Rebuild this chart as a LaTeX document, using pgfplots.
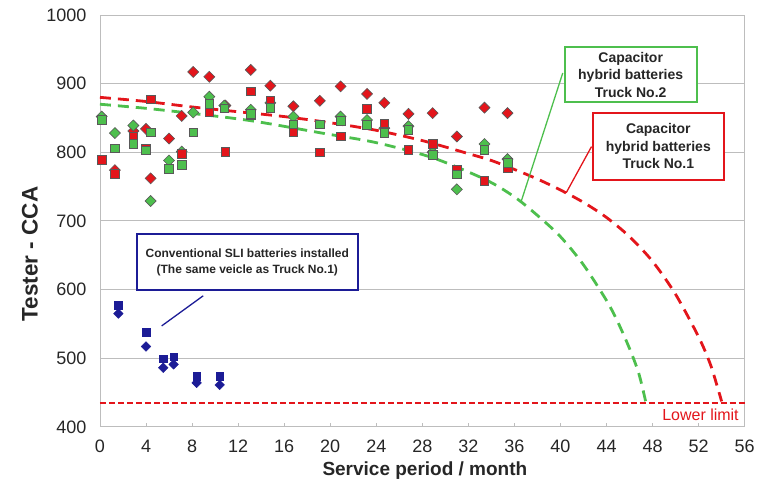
\documentclass[border=0pt]{standalone}
\usepackage{pgfplots}
\pgfplotsset{compat=1.18}
\usetikzlibrary{calc}
\usepackage{fontspec}
\setmainfont{Liberation Sans}
\definecolor{myred}{HTML}{E3151B}
\definecolor{mygreen}{HTML}{4DBF4D}
\definecolor{myblue}{HTML}{1C1C96}
\definecolor{gridgray}{HTML}{BDBDBD}
\begin{document}
\begin{tikzpicture}
\begin{axis}[
  name=ax, scale only axis, width=645pt, height=412pt,
  xmin=0, xmax=56, ymin=400, ymax=1000,
  xtick={0,4,...,56}, ytick={400,500,...,1000},
  ymajorgrids, grid style={draw=gridgray, line width=0.9pt},
  axis line style={draw=gridgray, line width=0.9pt},
  xtick style={draw=gridgray, line width=0.9pt}, ytick style={draw=none},
  tick align=inside, xtick pos=bottom, ytick pos=left, major tick length=4pt,
  /pgf/number format/assume math mode=true,
  /pgf/number format/1000 sep={},
  ticklabel style={font=\fontsize{18}{21}\selectfont, text=black!85},
  xticklabel style={yshift=-10pt},
  yticklabel style={xshift=-10pt},
  xlabel={Service period / month}, ylabel={Tester - CCA},
  xlabel style={font=\bfseries\fontsize{19}{22}\selectfont, text=black!85, at={(axis description cs:0.504,0)}, anchor=center, yshift=-44pt},
  ylabel style={font=\bfseries\fontsize{22.5}{26}\selectfont, text=black!85, at={(axis description cs:-0.1085,0.42)}, anchor=center},
  clip=false,
]
% lower limit
\addplot[myred, line width=2pt, dash pattern=on 6pt off 3pt] coordinates {(0,435) (56,435)};
% red fitted curve
\addplot[myred, line width=2.8pt, dash pattern=on 11pt off 7pt, smooth] coordinates {
(0,880) (4,874) (8,866) (12,859) (16,852) (20,843) (24,832) (28,817) (32,798) (34,788) (36,775) (38,761) (40,745) (42,727) (44,705) (46,677) (48,641) (50,593) (52,531) (53,492) (53.6,460) (54,437)};
% green fitted curve
\addplot[mygreen, line width=2.8pt, dash pattern=on 11pt off 7pt, smooth] coordinates {
(0,870) (4,864) (7.8,857) (13.1,846) (19.6,827) (24,814) (28.9,792) (33.5,760) (36,735) (38,708) (40,677) (42,636) (44,584) (45,552) (46,514) (46.8,478) (47.4,437)};
% red diamonds
\addplot[only marks, mark=square*, mark size=3.9pt, mark options={rotate=45, fill=myred, draw=black!65, line width=0.6pt}] coordinates {
(1.3,774) (2.9,831) (4.0,834) (4.4,762) (6.0,820) (7.1,853) (8.1,917) (9.5,910) (10.9,868) (13.1,920) (14.8,897) (16.8,867) (19.1,875) (20.9,896) (23.2,885) (24.7,872) (26.8,856) (28.9,857) (31.0,823) (33.4,865) (35.4,857)};
% green diamonds
\addplot[only marks, mark=square*, mark size=3.9pt, mark options={rotate=45, fill=mygreen, draw=black!65, line width=0.6pt}] coordinates {
(0.15,852) (1.3,828) (2.9,839) (4.4,729) (6.0,788) (7.1,801) (8.1,858) (9.5,881) (10.8,868) (13.1,862) (14.8,872) (16.8,852) (20.9,852) (23.2,847) (24.7,835) (26.8,838) (28.9,800) (31.0,746) (33.4,812) (35.4,790)};
% red squares
\addplot[only marks, mark=square*, mark size=4.3pt, mark options={fill=myred, draw=black!65, line width=0.6pt}] coordinates {
(0.15,789) (1.3,769) (2.9,823) (4.4,877) (4.0,806) (7.1,798) (9.5,859) (10.9,801) (13.1,889) (13.1,855) (14.8,876) (16.8,830) (19.1,800) (20.9,823) (23.2,863) (24.7,842) (26.8,804) (28.9,812) (31.0,775) (33.4,758) (35.4,777)};
% green squares
\addplot[only marks, mark=square*, mark size=4.3pt, mark options={fill=mygreen, draw=black!65, line width=0.6pt}] coordinates {
(0.15,847) (1.3,806) (2.9,812) (4.4,829) (4.0,803) (6.0,776) (7.1,782) (8.1,829) (9.5,871) (10.8,864) (13.1,856) (14.8,865) (16.8,841) (19.1,841) (20.9,846) (23.2,840) (24.7,828) (26.8,833) (28.9,796) (31.0,768) (33.4,804) (35.4,785)};
% blue squares
\addplot[only marks, mark=square*, mark size=3.7pt, mark options={fill=myblue, draw=myblue}] coordinates {
(1.6,577) (4.0,538) (5.5,499) (6.4,502) (8.4,474) (10.4,474)};
% blue diamonds
\addplot[only marks, mark=square*, mark size=3.4pt, mark options={rotate=45, fill=myblue, draw=myblue}] coordinates {
(1.6,565) (4.0,517) (5.5,486) (6.4,491) (8.4,464) (10.4,461)};
% leader lines
\draw[mygreen, line width=1.3pt] (axis cs:40.2,915.5) -- (axis cs:36.6,729);
\draw[myred, line width=1.3pt] (axis cs:42.7,808.3) -- (axis cs:40.5,741);
\draw[myblue, line width=1.3pt] (axis cs:8.97,590.9) -- (axis cs:5.36,547);
% boxes
\node[draw=mygreen, line width=1.8pt, fill=white, font=\bfseries\fontsize{14}{17.5}\selectfont, align=center, minimum width=132pt, minimum height=55pt, inner sep=0pt, text=black!85] at (axis cs:46.1,913) {Capacitor\\hybrid batteries\\Truck No.2};
\node[draw=myred, line width=1.8pt, fill=white, font=\bfseries\fontsize{14}{17.5}\selectfont, align=center, minimum width=131pt, minimum height=67pt, inner sep=0pt, text=black!85] at (axis cs:48.5,808.5) {Capacitor\\hybrid batteries\\Truck No.1};
\node[draw=myblue, line width=1.8pt, fill=white, font=\bfseries\fontsize{12}{16}\selectfont, align=center, minimum width=221pt, minimum height=56pt, inner sep=0pt, text=black!85] at (axis cs:12.8,640) {Conventional SLI batteries installed\\(The same veicle as Truck No.1)};
\node[anchor=east, text=myred, font=\fontsize{16}{19}\selectfont, inner sep=0pt] at (axis cs:55.5,417) {Lower limit};
\end{axis}
\path (ax.south west) ++(-100pt,-60pt) rectangle ($(ax.north east)+(13pt,15pt)$);
\end{tikzpicture}
\end{document}
